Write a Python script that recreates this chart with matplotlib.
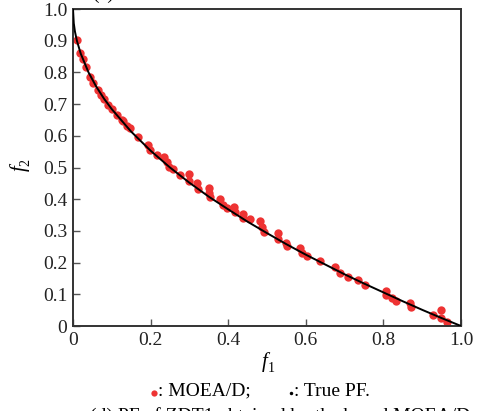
import matplotlib
matplotlib.use('Agg')
import matplotlib.pyplot as plt
from matplotlib.lines import Line2D

plt.rcParams['font.family'] = ['Liberation Serif', 'DejaVu Serif']

# MOEA/D solutions
moead_f1 = [0.010, 0.018, 0.025, 0.034, 0.044, 0.052, 0.064, 0.072, 0.081, 0.091,
            0.101, 0.113, 0.125, 0.130, 0.138, 0.147, 0.168, 0.194, 0.198, 0.216,
            0.235, 0.241, 0.248, 0.259, 0.276, 0.300, 0.300, 0.319, 0.323, 0.350,
            0.351, 0.353, 0.379, 0.387, 0.396, 0.415, 0.418, 0.437, 0.439, 0.455,
            0.482, 0.486, 0.492, 0.529, 0.529, 0.549, 0.551, 0.585, 0.589, 0.604,
            0.637, 0.675, 0.688, 0.710, 0.735, 0.753, 0.806, 0.806, 0.821, 0.832,
            0.869, 0.870, 0.929, 0.948, 0.948, 0.965]
moead_f2 = [0.902, 0.862, 0.841, 0.816, 0.784, 0.766, 0.745, 0.729, 0.715, 0.697,
            0.684, 0.666, 0.650, 0.647, 0.631, 0.624, 0.597, 0.571, 0.555, 0.539,
            0.534, 0.518, 0.503, 0.494, 0.476, 0.480, 0.458, 0.452, 0.432, 0.436,
            0.420, 0.406, 0.400, 0.382, 0.371, 0.376, 0.361, 0.353, 0.340, 0.338,
            0.331, 0.313, 0.297, 0.292, 0.273, 0.263, 0.252, 0.245, 0.231, 0.221,
            0.206, 0.185, 0.168, 0.154, 0.145, 0.128, 0.111, 0.098, 0.087, 0.080,
            0.071, 0.061, 0.035, 0.052, 0.024, 0.013]

# True Pareto front
true_f1 = [0.0, 0.002, 0.005, 0.01, 0.02, 0.04, 0.06, 0.08, 0.10, 0.15, 0.20, 0.25,
           0.30, 0.35, 0.40, 0.45, 0.50, 0.55, 0.60, 0.65, 0.70, 0.75, 0.80,
           0.85, 0.90, 0.95, 1.0]
true_f2 = [1.0, 0.955, 0.929, 0.900, 0.859, 0.800, 0.755, 0.717, 0.684, 0.613,
           0.553, 0.500, 0.452, 0.408, 0.368, 0.329, 0.293, 0.258, 0.225, 0.194,
           0.163, 0.134, 0.106, 0.078, 0.051, 0.025, 0.0]

ticks = [0, 0.2, 0.4, 0.6, 0.8, 1.0]
tick_labels = ['0', '0.2', '0.4', '0.6', '0.8', '1.0']
yticks = [0, 0.1, 0.2, 0.3, 0.4, 0.5, 0.6, 0.7, 0.8, 0.9, 1.0]
ytick_labels = ['0', '0.1', '0.2', '0.3', '0.4', '0.5', '0.6', '0.7', '0.8', '0.9', '1.0']

RED = '#ee3333'
FS = 14

fig = plt.figure(figsize=(4.88, 4.11), dpi=100)
ax = fig.add_axes([73 / 488, 1 - 326 / 411, 388 / 488, 317 / 411])

ax.plot(moead_f1, moead_f2, 'o', color=RED, markersize=6, markeredgewidth=0, zorder=2)
ax.plot(true_f1, true_f2, '-', color='black', linewidth=1.4, zorder=3)

ax.set_xlim(0, 1)
ax.set_ylim(0, 1)
ax.set_xticks(ticks)
ax.set_xticklabels(tick_labels)
ax.set_yticks(yticks)
ax.set_yticklabels(ytick_labels)
ax.tick_params(direction='in', length=5, width=1, labelsize=FS, color='#555555',
               labelcolor='#222222', top=False, right=False, pad=4)
for sp in ax.spines.values():
    sp.set_linewidth(1.4)
    sp.set_color('#333333')

# axis labels: italic f with small upright subscript
fig.text(265 / 488, 1 - 362 / 411, 'f', fontsize=FS + 1, style='italic',
         ha='center', va='center')
fig.text(271 / 488, 1 - 368 / 411, '1', fontsize=FS - 4, ha='center', va='center')
fig.text(20 / 488, 1 - 168 / 411, 'f', fontsize=FS + 1, style='italic',
         ha='center', va='center', rotation=90)
fig.text(26 / 488, 1 - 162 / 411, '2', fontsize=FS - 4, ha='center', va='center',
         rotation=90)

# legend line under the axes
ly = 1 - 391 / 411
fig.add_artist(Line2D([154 / 488], [ly - 0.006], marker='o', color=RED, markersize=4.5,
                      markeredgewidth=0, transform=fig.transFigure))
fig.text(158 / 488, ly, ': MOEA/D;', fontsize=FS, ha='left', va='center')
fig.add_artist(Line2D([291 / 488], [ly - 0.006], marker='o', color='black', markersize=2.5,
                      markeredgewidth=0, transform=fig.transFigure))
fig.text(294 / 488, ly, ': True PF.', fontsize=FS, ha='left', va='center')

# captions, clipped at the figure edges as in the source page
fig.text(90 / 488, 1 - 416 / 411, '(d) PF of ZDT1 obtained by the based MOEA/D',
         fontsize=FS, ha='left', va='center')
fig.text(92 / 488, 1 - (-6) / 411, '(c)', fontsize=FS, ha='left', va='center')

fig.savefig('out.png', dpi=100)
